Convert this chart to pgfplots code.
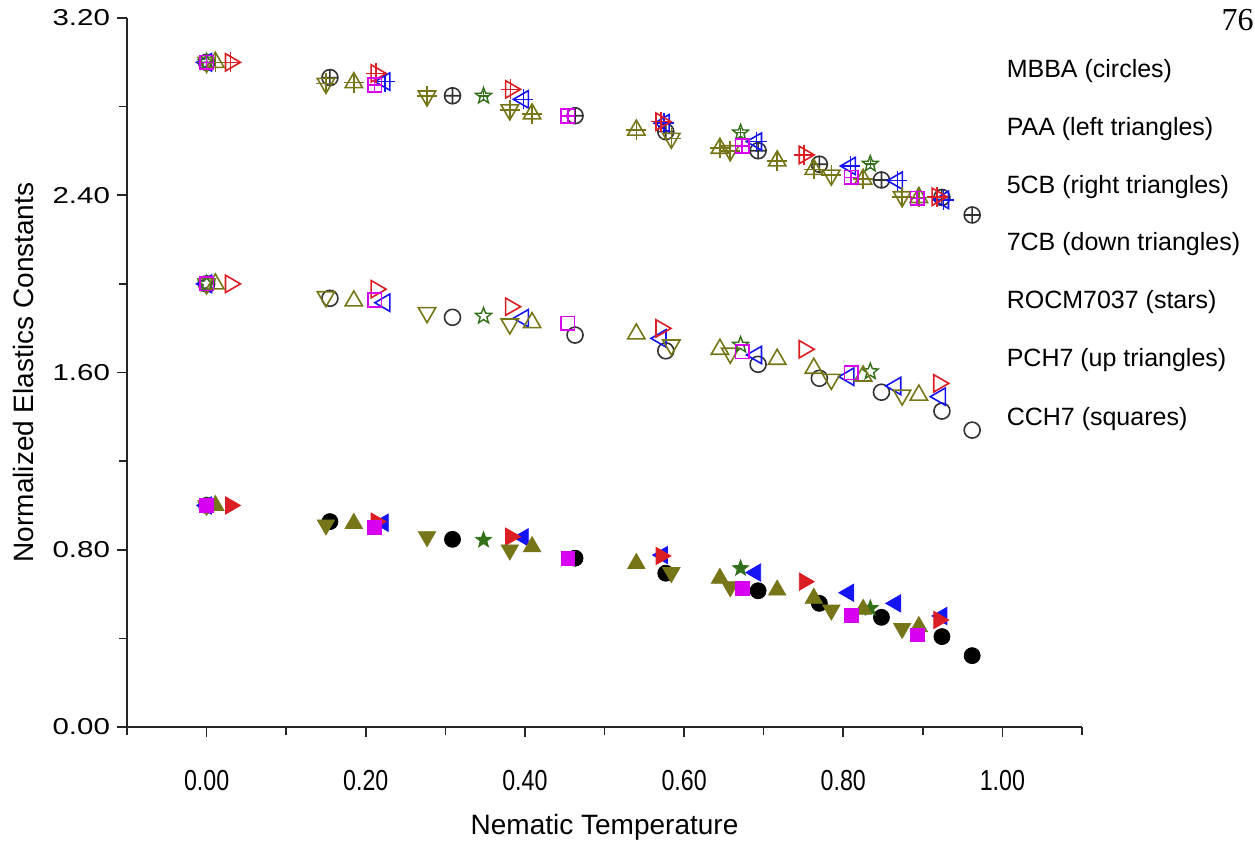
\documentclass[border=0pt]{standalone}
\usepackage{graphicx}
\usepackage{pgfplots}
\pgfplotsset{compat=1.18}
\usepackage{fontspec}
\setmainfont{Liberation Sans}
\setsansfont{Liberation Sans}
\newfontfamily\timesfont{Liberation Serif}
\definecolor{cred}{RGB}{218,30,35}
\definecolor{cblue}{RGB}{20,20,245}
\definecolor{colive}{RGB}{118,118,25}
\definecolor{cgreen}{RGB}{50,112,25}
\definecolor{cmag}{RGB}{215,0,240}

\pgfdeclareplotmark{ostar}{%
  \pgfpathmoveto{\pgfpointpolar{90}{\pgfplotmarksize}}%
  \pgfpathlineto{\pgfpointpolar{126}{0.42\pgfplotmarksize}}%
  \pgfpathlineto{\pgfpointpolar{162}{\pgfplotmarksize}}%
  \pgfpathlineto{\pgfpointpolar{198}{0.42\pgfplotmarksize}}%
  \pgfpathlineto{\pgfpointpolar{234}{\pgfplotmarksize}}%
  \pgfpathlineto{\pgfpointpolar{270}{0.42\pgfplotmarksize}}%
  \pgfpathlineto{\pgfpointpolar{306}{\pgfplotmarksize}}%
  \pgfpathlineto{\pgfpointpolar{342}{0.42\pgfplotmarksize}}%
  \pgfpathlineto{\pgfpointpolar{18}{\pgfplotmarksize}}%
  \pgfpathlineto{\pgfpointpolar{54}{0.42\pgfplotmarksize}}%
  \pgfpathclose
  \pgfusepathqstroke
}
\pgfdeclareplotmark{fstar}{%
  \pgfpathmoveto{\pgfpointpolar{90}{\pgfplotmarksize}}%
  \pgfpathlineto{\pgfpointpolar{126}{0.42\pgfplotmarksize}}%
  \pgfpathlineto{\pgfpointpolar{162}{\pgfplotmarksize}}%
  \pgfpathlineto{\pgfpointpolar{198}{0.42\pgfplotmarksize}}%
  \pgfpathlineto{\pgfpointpolar{234}{\pgfplotmarksize}}%
  \pgfpathlineto{\pgfpointpolar{270}{0.42\pgfplotmarksize}}%
  \pgfpathlineto{\pgfpointpolar{306}{\pgfplotmarksize}}%
  \pgfpathlineto{\pgfpointpolar{342}{0.42\pgfplotmarksize}}%
  \pgfpathlineto{\pgfpointpolar{18}{\pgfplotmarksize}}%
  \pgfpathlineto{\pgfpointpolar{54}{0.42\pgfplotmarksize}}%
  \pgfpathclose
  \pgfusepathqfillstroke
}

\begin{document}
\begin{tikzpicture}
\path[use as bounding box] (-63.5pt,-59.5pt) rectangle (564pt,363.5pt);
\begin{axis}[
  at={(0pt,0pt)}, anchor=south west,
  scale only axis, width=477.5pt, height=354.5pt,
  xmin=-0.1, xmax=1.1, ymin=0, ymax=3.2,
  axis x line=bottom, axis y line=left,
  axis line style={-, line width=0.9pt, black!85},
  xtick={0,0.2,0.4,0.6,0.8,1.0},
  minor xtick={-0.1,0.1,0.3,0.5,0.7,0.9,1.1},
  ytick={0,0.8,1.6,2.4,3.2},
  minor ytick={0.4,1.2,2.0,2.8},
  tick align=outside,
  major tick length=5pt, minor tick length=4pt,
  every tick/.style={black!85, line width=0.8pt},
  xticklabel={\scalebox{0.8}[1]{\sffamily\fontsize{14.5}{16}\selectfont\pgfmathprintnumber[assume math mode=true, fixed, fixed zerofill, precision=2]{\tick}}},
  yticklabel={\scalebox{1.28}[1]{\sffamily\fontsize{11.5}{14}\selectfont\pgfmathprintnumber[assume math mode=true, fixed, fixed zerofill, precision=2]{\tick}}},
  xticklabel shift=13pt,
  yticklabel shift=0pt,
  xlabel={Nematic Temperature},
  ylabel={Normalized Elastics Constants},
  xlabel style={font=\fontsize{14}{16}\selectfont, at={(axis description cs:0.5,0)}, anchor=center, yshift=-50pt},
  ylabel style={font=\fontsize{14}{16}\selectfont, at={(axis description cs:0,0.5)}, anchor=center, yshift=52pt},
  clip=false,
]
% ---------------- bottom set (filled) ----------------
\addplot[only marks, mark=*, mark size=4pt, black, mark options={fill=black}] coordinates {
(0,1.00) (0.155,0.927) (0.309,0.847) (0.463,0.762) (0.577,0.694) (0.693,0.615) (0.770,0.558) (0.848,0.495) (0.924,0.408) (0.962,0.322)};
\addplot[only marks, mark=triangle*, mark size=5pt, cblue, mark options={fill=cblue, rotate=90}] coordinates {
(0,1.00) (0.222,0.922) (0.398,0.856) (0.573,0.776) (0.690,0.697) (0.807,0.606) (0.866,0.558) (0.924,0.501)};
\addplot[only marks, mark=triangle*, mark size=5pt, cred, mark options={fill=cred, rotate=-90}] coordinates {
(0.030,1.00) (0.213,0.927) (0.382,0.859) (0.571,0.772) (0.751,0.656) (0.920,0.483)};
\addplot[only marks, mark=triangle*, mark size=5pt, colive, mark options={fill=colive, rotate=180}] coordinates {
(0,1.00) (0.150,0.912) (0.277,0.859) (0.381,0.799) (0.584,0.697) (0.658,0.633) (0.785,0.528) (0.874,0.445)};
\addplot[only marks, mark=fstar, mark size=4.2pt, cgreen, mark options={fill=cgreen}] coordinates {
(0,1.00) (0.348,0.844) (0.671,0.716) (0.834,0.536)};
\addplot[only marks, mark=triangle*, mark size=5pt, colive, mark options={fill=colive}] coordinates {
(0.011,1.00) (0.185,0.919) (0.409,0.814) (0.540,0.738) (0.645,0.671) (0.717,0.618) (0.763,0.581) (0.825,0.531) (0.895,0.453)};
\addplot[only marks, mark=square*, mark size=3.4pt, cmag, mark options={fill=cmag}] coordinates {
(0,1.00) (0.211,0.901) (0.454,0.761) (0.673,0.626) (0.810,0.505) (0.893,0.415)};
% ---------------- middle set (open) ----------------
\addplot[only marks, mark=o, mark size=4pt, black!80, mark options={line width=0.8pt}] coordinates {
(0,2.00) (0.155,1.935) (0.309,1.849) (0.463,1.769) (0.577,1.698) (0.693,1.637) (0.770,1.574) (0.848,1.511) (0.924,1.426) (0.962,1.340)};
\addplot[only marks, mark=triangle, mark size=5pt, cblue, mark options={rotate=90, line width=0.8pt}] coordinates {
(0,2.00) (0.224,1.915) (0.398,1.845) (0.571,1.754) (0.691,1.679) (0.807,1.581) (0.866,1.539) (0.922,1.491)};
\addplot[only marks, mark=triangle, mark size=5pt, cred, mark options={rotate=-90, line width=0.8pt}] coordinates {
(0.030,2.00) (0.213,1.976) (0.382,1.897) (0.571,1.799) (0.751,1.705) (0.920,1.551)};
\addplot[only marks, mark=triangle, mark size=5pt, colive, mark options={rotate=180, line width=0.8pt}] coordinates {
(0,2.00) (0.150,1.942) (0.277,1.870) (0.381,1.819) (0.584,1.724) (0.658,1.687) (0.785,1.569) (0.874,1.498)};
\addplot[only marks, mark=ostar, mark size=4.2pt, cgreen, mark options={line width=0.7pt}] coordinates {
(0,2.00) (0.348,1.855) (0.671,1.724) (0.834,1.604)};
\addplot[only marks, mark=triangle, mark size=5pt, colive, mark options={line width=0.8pt}] coordinates {
(0.011,2.00) (0.185,1.923) (0.409,1.825) (0.540,1.774) (0.645,1.705) (0.717,1.660) (0.763,1.619) (0.825,1.584) (0.895,1.498)};
\addplot[only marks, mark=square, mark size=3.4pt, cmag, mark options={line width=0.8pt}] coordinates {
(0,2.00) (0.211,1.927) (0.454,1.822) (0.673,1.694) (0.810,1.599)};
% ---------------- top set (crossed) ----------------
\addplot[only marks, mark=oplus, mark size=4pt, black!80, mark options={line width=0.8pt}] coordinates {
(0,3.00) (0.155,2.931) (0.309,2.849) (0.463,2.759) (0.577,2.687) (0.693,2.601) (0.770,2.540) (0.848,2.469) (0.924,2.390) (0.962,2.311)};
\addplot[only marks, mark=triangle, mark size=5pt, cblue, mark options={rotate=90, line width=0.8pt}] coordinates {
(0,3.00) (0.224,2.913) (0.398,2.833) (0.575,2.725) (0.691,2.642) (0.809,2.532) (0.868,2.466) (0.926,2.379)};
\addplot[only marks, mark=+, mark size=5pt, cblue, mark options={line width=0.8pt}] coordinates {
(0,3.00) (0.224,2.913) (0.398,2.833) (0.575,2.725) (0.691,2.642) (0.809,2.532) (0.868,2.466) (0.926,2.379)};
\addplot[only marks, mark=triangle, mark size=5pt, cred, mark options={rotate=-90, line width=0.8pt}] coordinates {
(0.030,3.00) (0.213,2.950) (0.382,2.878) (0.571,2.732) (0.751,2.582) (0.918,2.393)};
\addplot[only marks, mark=+, mark size=5pt, cred, mark options={line width=0.8pt}] coordinates {
(0.030,3.00) (0.213,2.950) (0.382,2.878) (0.571,2.732) (0.751,2.582) (0.918,2.393)};
\addplot[only marks, mark=triangle, mark size=5pt, colive, mark options={rotate=180, line width=0.8pt}] coordinates {
(0,3.00) (0.150,2.905) (0.277,2.848) (0.381,2.785) (0.584,2.657) (0.658,2.601) (0.785,2.491) (0.874,2.393)};
\addplot[only marks, mark=+, mark size=5pt, colive, mark options={line width=0.8pt}] coordinates {
(0,3.00) (0.150,2.905) (0.277,2.848) (0.381,2.785) (0.584,2.657) (0.658,2.601) (0.785,2.491) (0.874,2.393)};
\addplot[only marks, mark=ostar, mark size=4.2pt, cgreen, mark options={line width=0.7pt}] coordinates {
(0,3.00) (0.348,2.848) (0.671,2.682) (0.834,2.541)};
\addplot[only marks, mark=+, mark size=2.5pt, cgreen, mark options={line width=0.7pt}] coordinates {
(0,3.00) (0.348,2.848) (0.671,2.682) (0.834,2.541)};
\addplot[only marks, mark=triangle, mark size=5pt, colive, mark options={line width=0.8pt}] coordinates {
(0.011,3.00) (0.185,2.908) (0.409,2.767) (0.540,2.694) (0.645,2.612) (0.717,2.555) (0.763,2.517) (0.825,2.472) (0.895,2.390)};
\addplot[only marks, mark=+, mark size=5pt, colive, mark options={line width=0.8pt}] coordinates {
(0.011,3.00) (0.185,2.908) (0.409,2.767) (0.540,2.694) (0.645,2.612) (0.717,2.555) (0.763,2.517) (0.825,2.472) (0.895,2.390)};
\addplot[only marks, mark=square, mark size=3.4pt, cmag, mark options={line width=0.8pt}] coordinates {
(0,3.00) (0.211,2.898) (0.454,2.758) (0.673,2.622) (0.810,2.481) (0.893,2.386)};
\addplot[only marks, mark=+, mark size=3.4pt, cmag, mark options={line width=0.8pt}] coordinates {
(0,3.00) (0.211,2.898) (0.454,2.758) (0.673,2.622) (0.810,2.481) (0.893,2.386)};
% ---------------- labels ----------------
\begin{scope}[every node/.style={anchor=west, font=\fontsize{12.5}{14}\selectfont, inner sep=0pt}]
\node at (axis cs:1.005,2.961) {MBBA (circles)};
\node at (axis cs:1.005,2.699) {PAA (left triangles)};
\node at (axis cs:1.005,2.437) {5CB (right triangles)};
\node at (axis cs:1.005,2.180) {7CB (down triangles)};
\node at (axis cs:1.005,1.918) {ROCM7037 (stars)};
\node at (axis cs:1.005,1.656) {PCH7 (up triangles)};
\node at (axis cs:1.005,1.390) {CCH7 (squares)};
\end{scope}
\end{axis}
\node[anchor=north east, inner sep=0pt, font=\timesfont\fontsize{16}{17}\selectfont] at (563.5pt,359pt) {76};
\end{tikzpicture}
\end{document}
